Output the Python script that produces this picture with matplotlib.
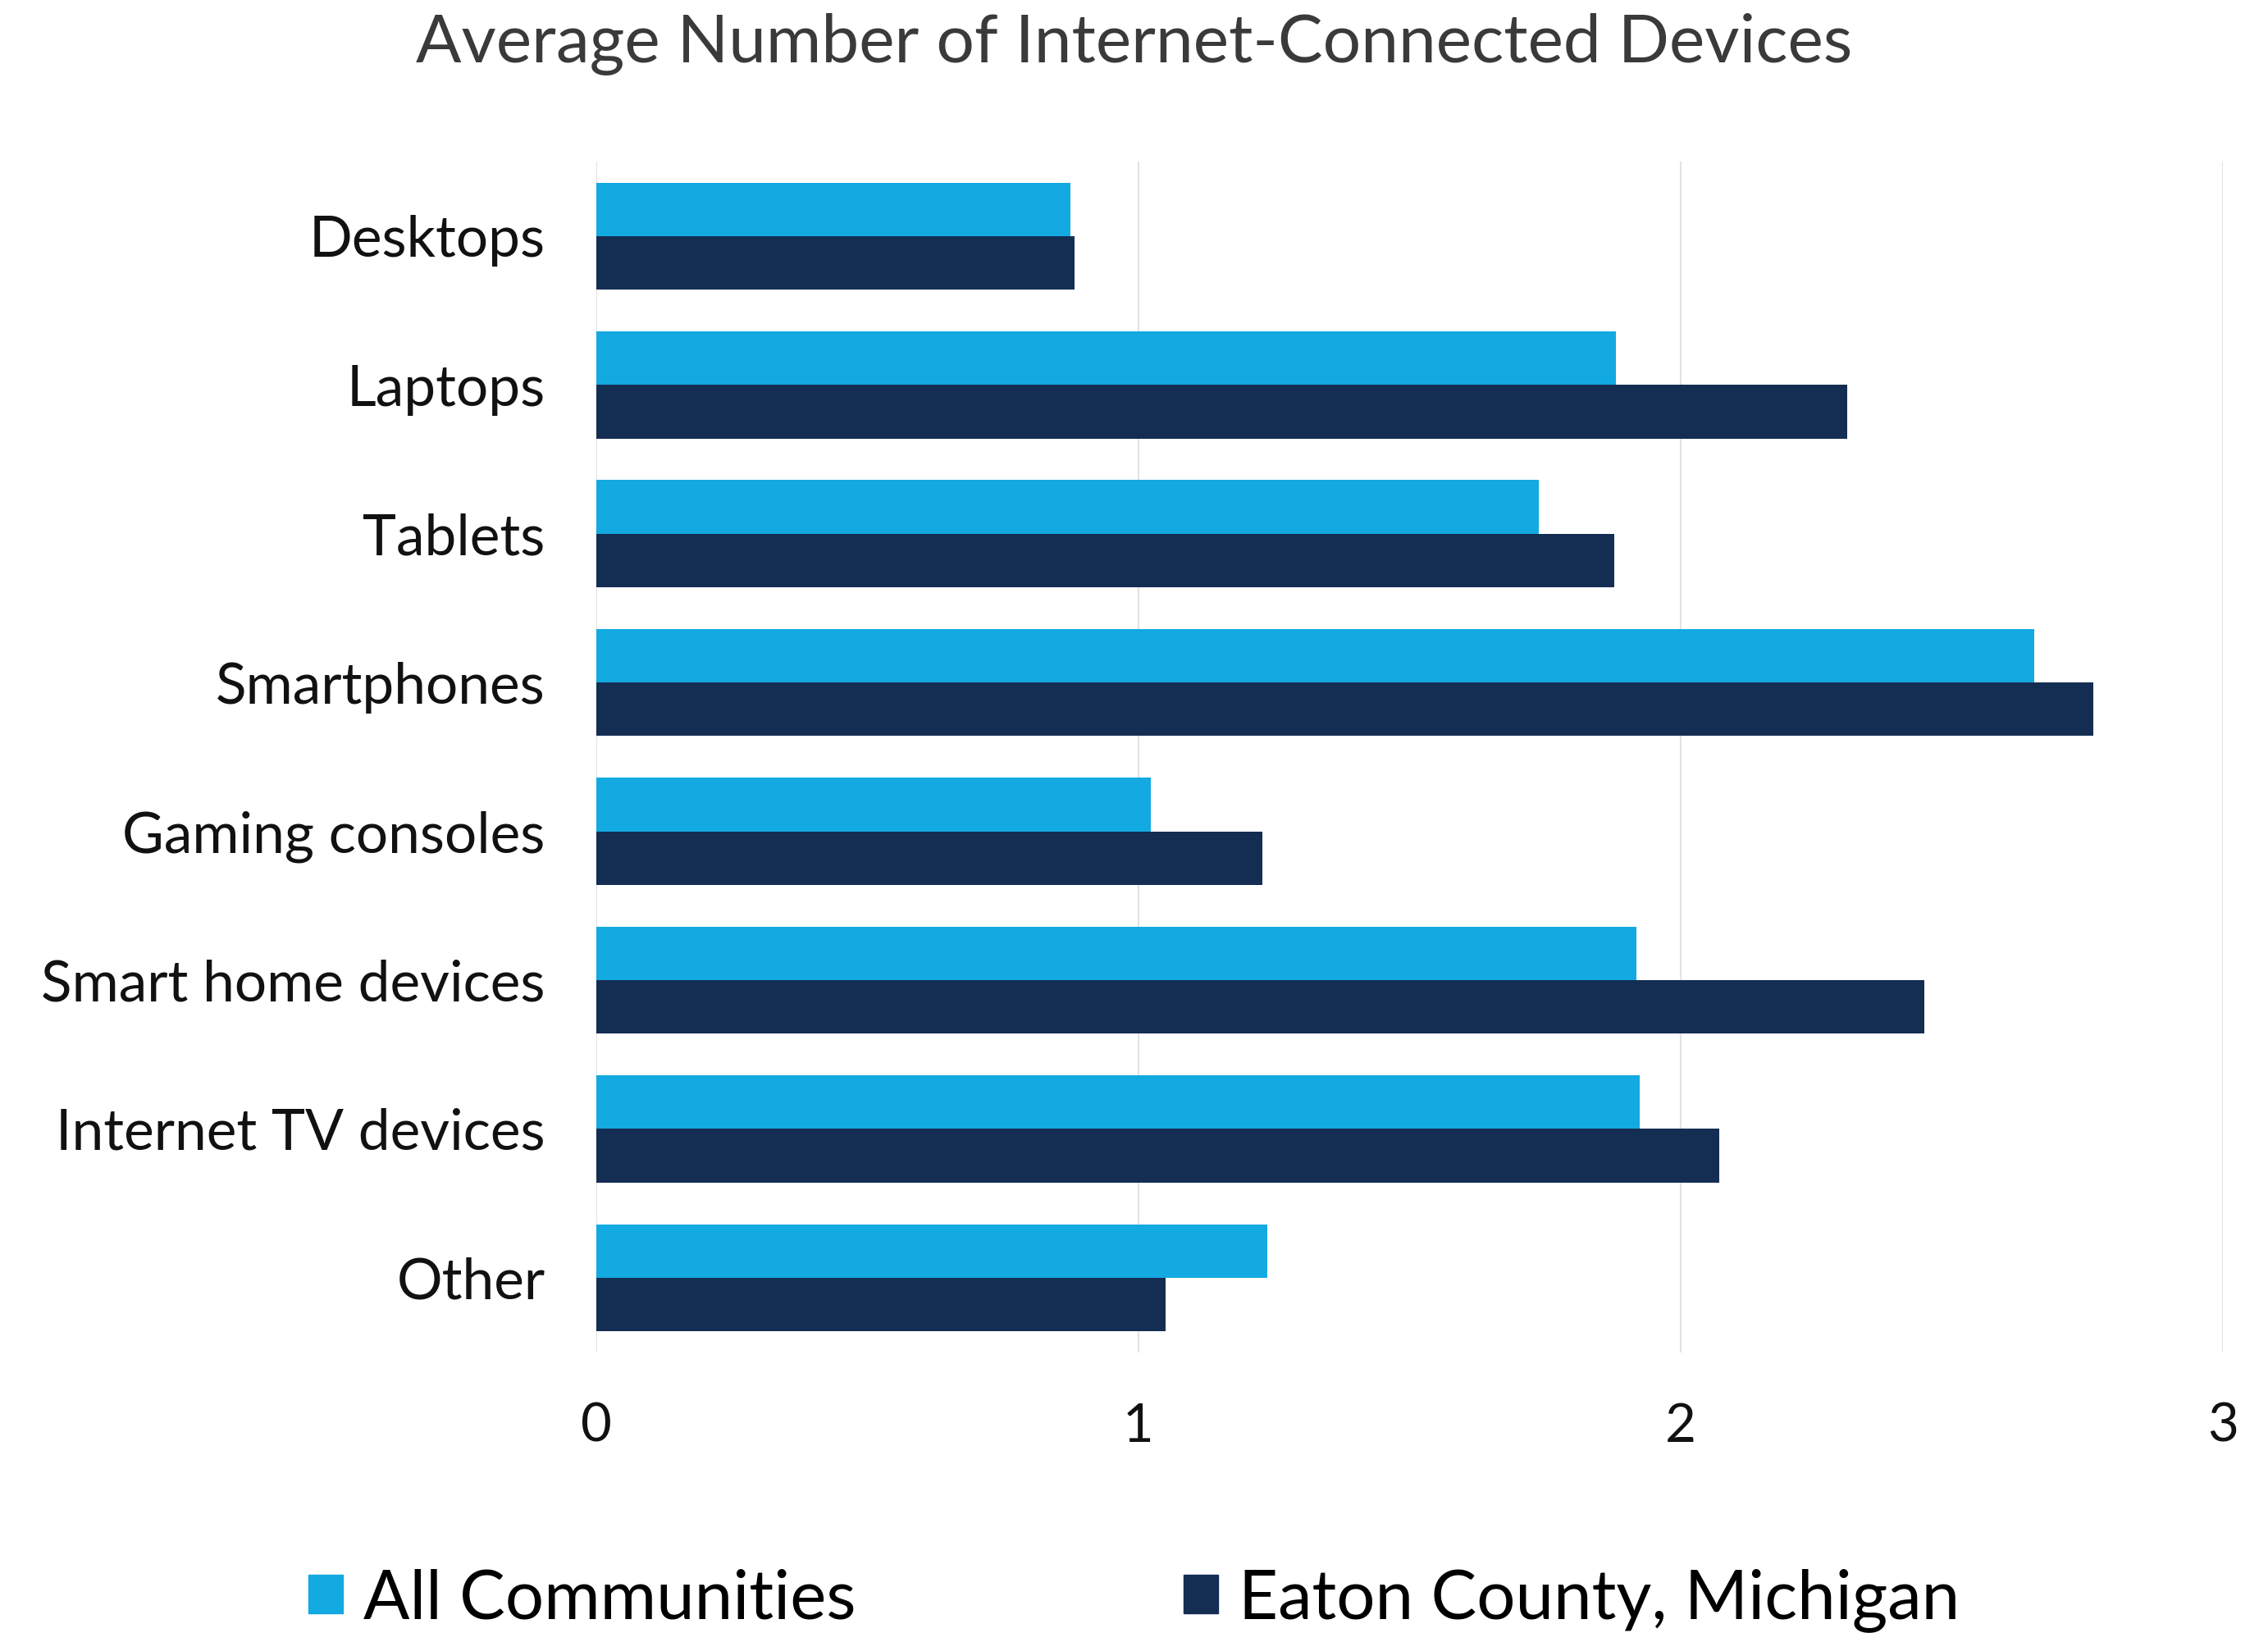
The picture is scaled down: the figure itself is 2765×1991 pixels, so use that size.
import numpy as np
import matplotlib
matplotlib.use("Agg")
import matplotlib.pyplot as plt
from matplotlib.patches import Patch

categories = ['Desktops', 'Laptops', 'Tablets', 'Smartphones', 'Gaming consoles',
              'Smart home devices', 'Internet TV devices', 'Other']
all_communities = [0.874, 1.881, 1.739, 2.653, 1.023, 1.918, 1.924, 1.237]
eaton_county = [0.882, 2.308, 1.878, 2.762, 1.229, 2.450, 2.071, 1.050]
series_labels = ['All Communities', 'Eaton County, Michigan']
x_ticks = [0, 1, 2, 3]

LIGHT = '#13a9e1'
DARK = '#142d53'

plt.rcParams['font.family'] = ['Lato', 'DejaVu Sans']

fig = plt.figure(figsize=(27.65, 19.91), dpi=100)
ax = fig.add_axes([0.263, 0.172, 0.717, 0.729])

y = np.arange(len(categories))
h = 0.36
ax.barh(y - h / 2, all_communities, height=h, color=LIGHT, zorder=3)
ax.barh(y + h / 2, eaton_county, height=h, color=DARK, zorder=3)

ax.set_ylim(len(categories) - 0.5, -0.5)
ax.set_xlim(0, 3)
ax.set_yticks(y)
ax.set_yticklabels(categories, fontsize=50, color='#111111')
ax.set_xticks(x_ticks)
ax.set_xticklabels([str(t) for t in x_ticks], fontsize=47, color='#111111')
ax.tick_params(axis='y', length=0, pad=45)
ax.tick_params(axis='x', length=0, pad=44)
ax.grid(axis='x', color='#e3e3e3', linewidth=1.5, zorder=0)
for s in ax.spines.values():
    s.set_visible(False)

fig.suptitle('Average Number of Internet-Connected Devices', x=0.5, y=0.992,
             fontsize=59, color='#3a3a3a', va='top')

handles = [Patch(color=LIGHT), Patch(color=DARK)]
fig.legend(handles, series_labels, loc='center', bbox_to_anchor=(0.5, 0.02),
           ncol=2, frameon=False, fontsize=60, handlelength=0.5, handleheight=0.5,
           handletextpad=0.3, columnspacing=4.8)

fig.savefig('out.png', dpi=100)
plt.close(fig)
